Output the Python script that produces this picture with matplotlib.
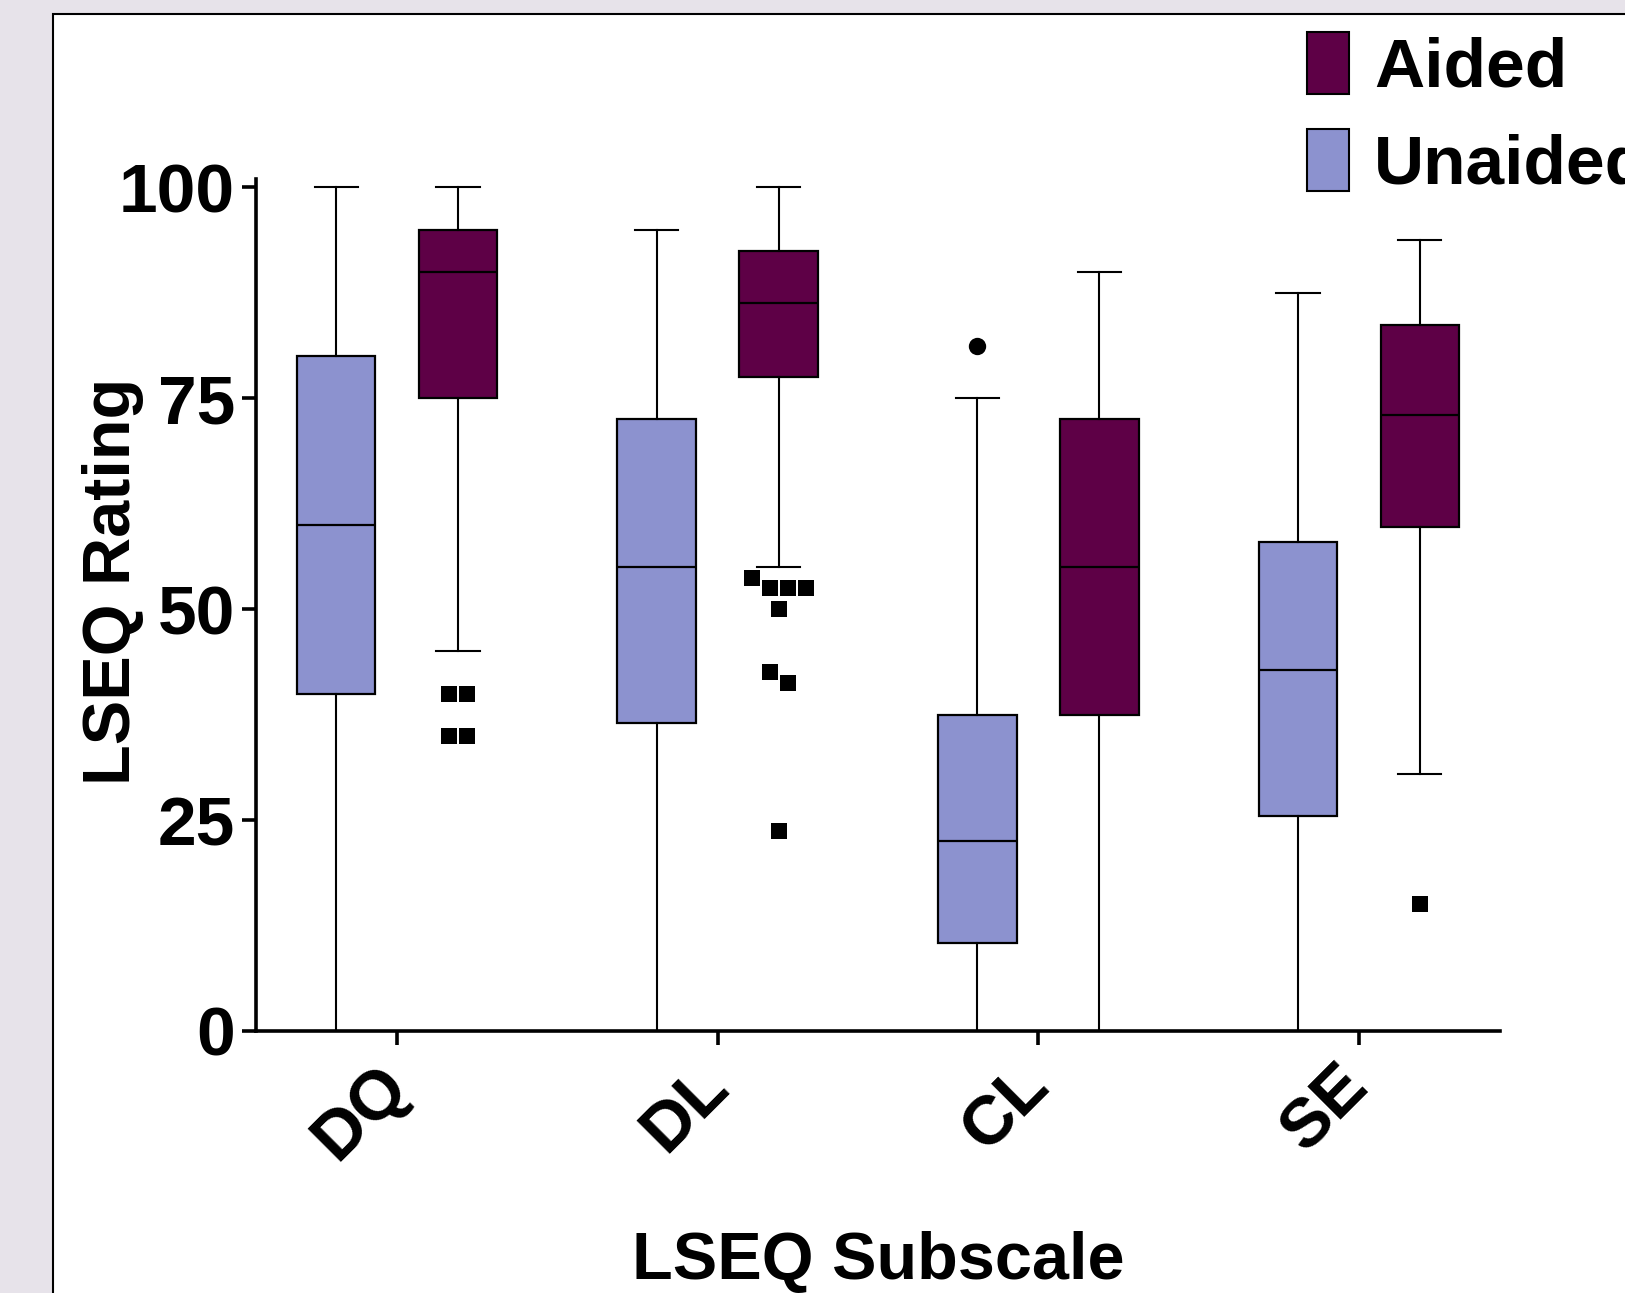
import numpy as np
import matplotlib
matplotlib.use("Agg")
import matplotlib.pyplot as plt
from matplotlib.patches import Patch, Rectangle

plt.rcParams.update({
    "font.family": ["Liberation Sans", "DejaVu Sans"],
    "font.weight": "bold",
})

W, H, DPI = 1625, 1293, 100

C_BG = "#E7E3EA"
C_AIDED = "#5E0046"
C_UNAIDED = "#8C92CF"

# ── data ─────────────────────────────────────────────────────────────
subscales = ["DQ", "DL", "CL", "SE"]

un_whislo = [0, 0, 0, 0]
un_q1 = [40, 36.5, 10.4, 25.5]
un_med = [60, 55, 22.5, 42.75]
un_q3 = [80, 72.5, 37.5, 58]
un_whishi = [100, 95, 75, 87.5]
un_out = [[], [], [81.25], []]

ai_whislo = [45, 55, 0, 30.5]
ai_q1 = [75, 77.5, 37.5, 59.75]
ai_med = [90, 86.25, 55, 73]
ai_q3 = [95, 92.5, 72.5, 83.75]
ai_whishi = [100, 100, 90, 93.75]
ai_out = [[40, 40, 35, 35],
          [53.75, 52.5, 52.5, 52.5, 50, 42.5, 41.25, 23.75],
          [], [15]]


def stats(lo, q1, med, q3, hi):
    return [dict(whislo=a, q1=b, med=c, q3=d, whishi=e, fliers=[])
            for a, b, c, d, e in zip(lo, q1, med, q3, hi)]


def swarm(values, thresh=2.0, step=0.056):
    # GraphPad-like: near-equal outliers share a row, spread left to right
    rows = []
    for v in sorted(values, reverse=True):
        if rows and rows[-1][0] - v < thresh:
            rows[-1].append(v)
        else:
            rows.append([v])
    xs, ys = [], []
    for row in rows:
        n = len(row)
        for i, v in enumerate(row):
            xs.append((i - (n - 1) / 2) * step)
            ys.append(v)
    return np.array(xs), np.array(ys)


fig = plt.figure(figsize=(W / DPI, H / DPI), dpi=DPI, facecolor=C_BG)
fig.add_artist(Rectangle((53 / W, -0.05), 1.1, 1 - 14 / H + 0.05,
                         transform=fig.transFigure, fc="white", ec="black",
                         lw=1.5, zorder=0))
ax = fig.add_axes([256 / W, 1 - 1031 / H, (1500 - 256) / W, (1031 - 179) / H])
ax.set_facecolor("none")

pos = np.arange(len(subscales))
off = 0.19
common = dict(widths=0.245, patch_artist=True, showfliers=False,
              medianprops=dict(color="black", lw=1.6),
              whiskerprops=dict(color="black", lw=1.5),
              capprops=dict(color="black", lw=1.5), capwidths=0.135)

ax.bxp(stats(un_whislo, un_q1, un_med, un_q3, un_whishi), positions=pos - off,
       boxprops=dict(facecolor=C_UNAIDED, edgecolor="black", lw=1.6), **common)
ax.bxp(stats(ai_whislo, ai_q1, ai_med, ai_q3, ai_whishi), positions=pos + off,
       boxprops=dict(facecolor=C_AIDED, edgecolor="black", lw=1.6), **common)

for i in range(len(subscales)):
    if un_out[i]:
        dx, y = swarm(un_out[i])
        ax.plot(pos[i] - off + dx, y, "o", color="black", ms=12.5, mew=0)
    if ai_out[i]:
        dx, y = swarm(ai_out[i])
        ax.plot(pos[i] + off + dx, y, "s", color="black", ms=12, mew=0)

ax.set_xlim(-0.44, 3.44)
ax.set_ylim(0, 101)
ax.set_yticks([0, 25, 50, 75, 100])
ax.set_xticks(pos)
ax.set_xticklabels(subscales, rotation=45, ha="right", va="center",
                   rotation_mode="anchor")
for s in ["top", "right"]:
    ax.spines[s].set_visible(False)
for s in ["left", "bottom"]:
    ax.spines[s].set_linewidth(2.6)
ax.tick_params(direction="out", length=10, width=2.6, labelsize=50, pad=5)
ax.tick_params(axis="x", pad=22)

ax.set_ylabel("LSEQ Rating", fontsize=48, fontweight="bold")
ax.yaxis.set_label_coords(-0.090, 0.528)
ax.set_xlabel("LSEQ Subscale", fontsize=48, fontweight="bold")
ax.xaxis.set_label_coords(0.5, -0.235)

handles = [Patch(fc=C_AIDED, ec="black", lw=1.5),
           Patch(fc=C_UNAIDED, ec="black", lw=1.5)]
fig.legend(handles, ["Aided", "Unaided"], loc="upper left",
           bbox_to_anchor=(1307 / W, 1 - 32 / H), frameon=False,
           fontsize=50, handlelength=0.6, handleheight=1.0,
           handletextpad=0.37, labelspacing=0.4, borderpad=0,
           borderaxespad=0)

fig.savefig("out.png", dpi=DPI, facecolor=C_BG)
